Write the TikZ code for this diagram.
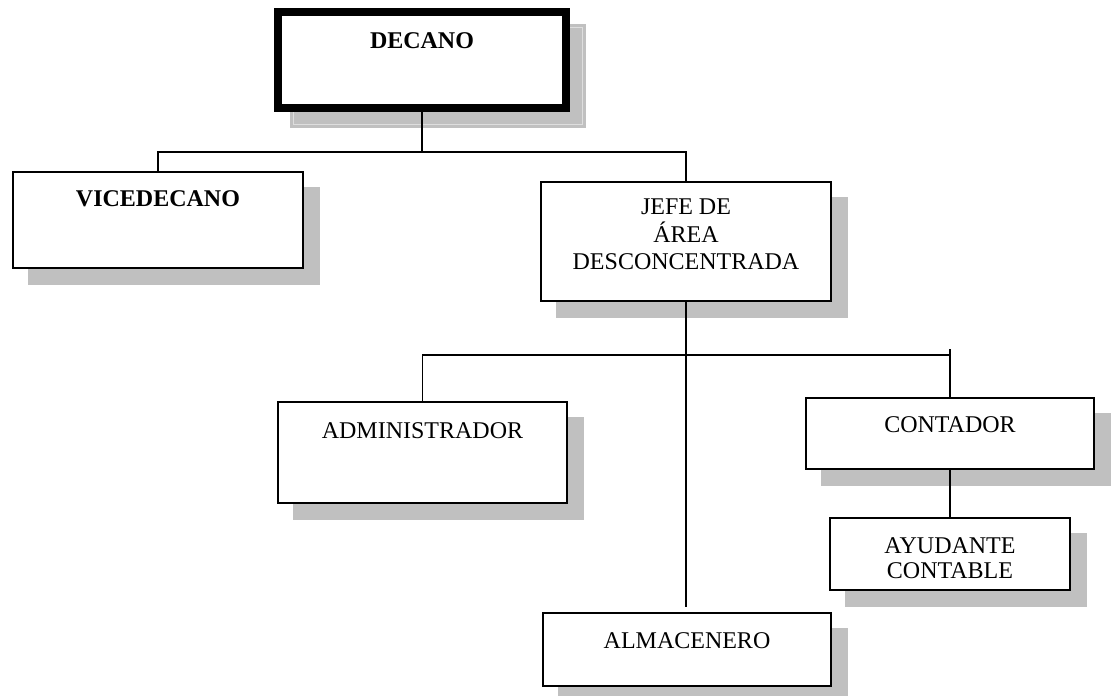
\documentclass[tikz,border=0pt]{standalone}
\usepackage{fontspec}
\setmainfont{Liberation Serif}
\usetikzlibrary{positioning,backgrounds}
\definecolor{shadowgrey}{RGB}{192,192,192}
\definecolor{shadowline}{RGB}{222,222,222}
\tikzset{
  post/.style={draw, line width=1.5pt, fill=white, rectangle, inner sep=0pt},
  headpost/.style={post, line width=7.5pt},
  caption/.style={inner sep=0pt, align=center, font=\fontsize{24}{27.5}\selectfont},
  boldcaption/.style={caption, font=\fontsize{24}{27.5}\selectfont\bfseries},
  wire/.style={line width=1.5pt},
}
\begin{document}
\begin{tikzpicture}[x=1pt,y=-1pt]
\useasboundingbox (0,0) rectangle (1114,696);

% boxes of the chart
\node[headpost, minimum width=288pt, minimum height=96pt] (decano) at (422,60) {};
\node[post, minimum width=290pt, minimum height=96pt] (vice) at (158,220) {};
\node[post, minimum width=290pt, minimum height=119pt] (jefe) at (686,241.5) {};
\node[post, minimum width=289pt, minimum height=101pt] (admin) at (422.5,452.5) {};
\node[post, minimum width=288pt, minimum height=71pt] (cont) at (950,433.5) {};
\node[post, minimum width=240pt, minimum height=72pt] (ayud) at (950,554) {};
\node[post, minimum width=288pt, minimum height=73pt] (alm) at (687,649.5) {};

% titles
\node[boldcaption, below=23.75pt of decano.north] (decano-t) {DECANO};
\node[boldcaption, below=18.75pt of vice.north] (vice-t) {VICEDECANO};
\node[caption, below=17.75pt of jefe.north] (jefe-t) {JEFE DE\\ÁREA\\DESCONCENTRADA};
\node[caption, below=20.75pt of admin.north] (admin-t) {ADMINISTRADOR};
\node[caption, below=18.75pt of cont.north] (cont-t) {CONTADOR};
\node[caption, font=\fontsize{24}{25.6}\selectfont, below=19.75pt of ayud.north] (ayud-t) {AYUDANTE\\CONTABLE};
\node[caption, below=19.75pt of alm.north] (alm-t) {ALMACENERO};

% drop shadows
\begin{scope}[on background layer]
  \foreach \n in {decano,vice,jefe,admin,cont,ayud,alm}
    \fill[shadowgrey] ([shift={(16,16)}]\n.north west) rectangle ([shift={(16,16)}]\n.south east);
  \draw[shadowline, line width=0.8pt] ([shift={(19,19)}]decano.north west) rectangle ([shift={(13,13)}]decano.south east);
\end{scope}

% connectors
\coordinate (busA) at (422,152);
\draw[wire] (decano.south) -- (busA);
\draw[wire] (vice.north) |- (busA) -| (jefe.north);

\coordinate (busB) at (686,355);
\coordinate (stub) at (950,349);
\draw[wire] (admin.north) |- (busB) -| (cont.north);
\draw[wire] (cont.north) -- (stub);
\draw[wire] (jefe.south) -- ([yshift=5pt]jefe.south |- alm.north);
\draw[wire] (cont.south) -- (ayud.north);
\end{tikzpicture}
\end{document}
